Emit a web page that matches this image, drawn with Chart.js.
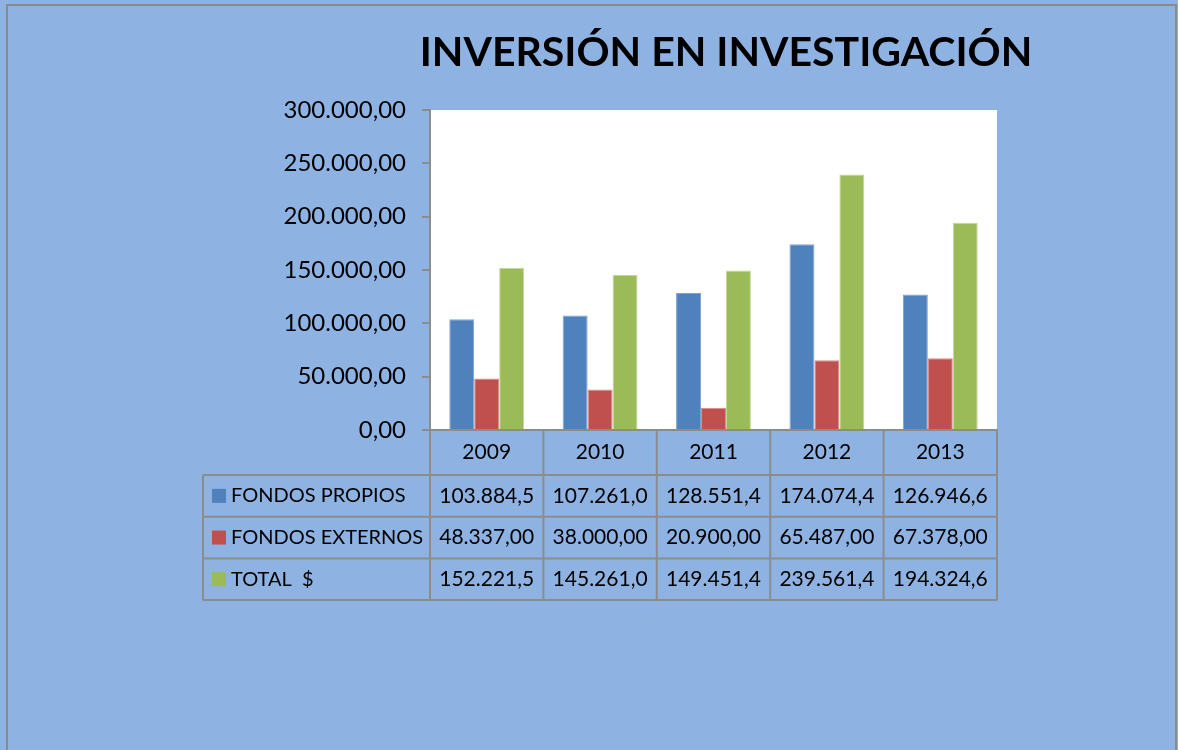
<!DOCTYPE html>
<html>
<head>
<meta charset="utf-8">
<script src="https://cdn.jsdelivr.net/npm/chart.js@4/dist/chart.umd.min.js"></script>
<style>
  html, body { margin: 0; padding: 0; background: #8eb3e3; }
  #wrap { width: 1178px; height: 750px; }
</style>
</head>
<body>
<div id="wrap"><canvas id="chart" width="1178" height="750"></canvas></div>
<script>
// data
const years = ['2009', '2010', '2011', '2012', '2013'];
const seriesNames = ['FONDOS PROPIOS', 'FONDOS EXTERNOS', 'TOTAL  $'];
const fondosPropios = [103884.5, 107261.0, 128551.4, 174074.4, 126946.6];
const fondosExternos = [48337.00, 38000.00, 20900.00, 65487.00, 67378.00];
const totalInv = [152221.5, 145261.0, 149451.4, 239561.4, 194324.6];
const tableDecimals = [1, 2, 1];

const FONT = 'Lato, "Open Sans", sans-serif';
const GRID = '#8c8c8c';

// 300000 -> "300.000,00"
function fmt(v, dec) {
    let parts = v.toFixed(dec).split('.');
    let ent = parts[0].replace(/\B(?=(\d{3})+(?!\d))/g, '.');
    return parts.length > 1 ? ent + ',' + parts[1] : ent;
}

// fondo, marco y titulo
const backdrop = {
    id: 'backdrop',
    beforeDraw(chart) {
        const ctx = chart.ctx, a = chart.chartArea;
        ctx.save();
        ctx.fillStyle = '#8eb3e3';
        ctx.fillRect(0, 0, chart.width, chart.height);
        ctx.fillStyle = '#ffffff';
        ctx.fillRect(a.left, a.top, a.right - a.left, a.bottom - a.top);
        ctx.strokeStyle = '#8a8a8a';
        ctx.lineWidth = 2;
        ctx.beginPath();
        ctx.moveTo(7, 750);
        ctx.lineTo(7, 5);
        ctx.lineTo(1176, 5);
        ctx.lineTo(1176, 750);
        ctx.stroke();
        ctx.restore();
    },
    afterDraw(chart) {
        const ctx = chart.ctx;
        ctx.save();
        ctx.fillStyle = '#000';
        ctx.font = 'bold 41px ' + FONT;
        ctx.textAlign = 'center';
        ctx.textBaseline = 'middle';
        ctx.fillText('INVERSIÓN EN INVESTIGACIÓN', 726, 53);
        ctx.restore();
    }
};

// tabla de datos bajo el eje
const dataTable = {
    id: 'dataTable',
    afterDraw(chart) {
        const ctx = chart.ctx;
        const xs = chart.scales.x;
        const a = chart.chartArea;
        const colW = xs.width / years.length;
        const top = a.bottom;
        const head = 45;
        const rowH = 41.7;
        const labelLeft = 203;
        const tBottom = top + head + rowH * 3;

        ctx.save();
        ctx.strokeStyle = GRID;
        ctx.lineWidth = 2;
        ctx.beginPath();
        for (let i = 0; i <= years.length; i++) {
            const x = xs.getPixelForValue(0) - colW / 2 + i * colW;
            ctx.moveTo(x, top);
            ctx.lineTo(x, tBottom);
        }
        for (let r = 0; r <= 3; r++) {
            const y = top + head + r * rowH;
            ctx.moveTo(labelLeft, y);
            ctx.lineTo(a.right, y);
        }
        ctx.moveTo(labelLeft, top + head);
        ctx.lineTo(labelLeft, tBottom);
        ctx.stroke();

        ctx.textBaseline = 'middle';
        chart.data.datasets.forEach(function (ds, r) {
            const cy = top + head + r * rowH + rowH / 2;
            ctx.fillStyle = ds.backgroundColor;
            ctx.fillRect(labelLeft + 9, cy - 7, 14, 14);
            ctx.fillStyle = '#000';
            ctx.font = '20px ' + FONT;
            ctx.textAlign = 'left';
            ctx.fillText(ds.label, labelLeft + 28, cy);
            ctx.font = '21px ' + FONT;
            ctx.textAlign = 'center';
            ds.data.forEach(function (v, i) {
                ctx.fillText(fmt(v, tableDecimals[r]), xs.getPixelForValue(i), cy);
            });
        });
        ctx.restore();
    }
};

new Chart(document.getElementById('chart'), {
    type: 'bar',
    data: {
        labels: years,
        datasets: [
            {
                label: seriesNames[0],
                data: fondosPropios,
                backgroundColor: '#4f81bd',
                borderColor: '#7ea3d3',
                borderWidth: 1
            },
            {
                label: seriesNames[1],
                data: fondosExternos,
                backgroundColor: '#c0504d',
                borderColor: '#d88a88',
                borderWidth: 1
            },
            {
                label: seriesNames[2],
                data: totalInv,
                backgroundColor: '#9bbb59',
                borderColor: '#c3d89b',
                borderWidth: 1
            }
        ]
    },
    options: {
        responsive: false,
        animation: false,
        layout: {
            padding: { left: 0, right: 181, top: 110, bottom: 275 }
        },
        datasets: {
            bar: {
                categoryPercentage: 0.66,
                barPercentage: 1.0
            }
        },
        plugins: {
            legend: { display: false },
            tooltip: { enabled: false }
        },
        scales: {
            x: {
                grid: { display: false, drawTicks: false, tickLength: 0 },
                border: { display: true, color: GRID, width: 2 },
                ticks: {
                    color: '#000',
                    font: { family: FONT, size: 21 },
                    padding: 10
                },
                afterFit(s) { s.height = 45; }
            },
            y: {
                min: 0,
                max: 300000,
                grid: { drawOnChartArea: false, color: GRID, tickLength: 8, lineWidth: 2 },
                border: { display: true, color: GRID, width: 2 },
                ticks: {
                    stepSize: 50000,
                    color: '#000',
                    font: { family: FONT, size: 24 },
                    padding: 16,
                    callback: function (v) { return fmt(v, 2); }
                },
                afterFit(s) { s.width = 430; }
            }
        }
    },
    plugins: [backdrop, dataTable]
});
</script>
</body>
</html>
